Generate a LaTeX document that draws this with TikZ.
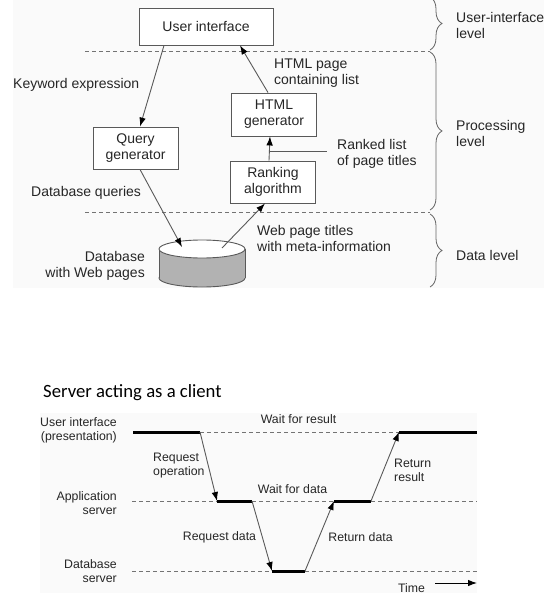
\documentclass[tikz,border=0pt]{standalone}
\usepackage{fontspec}
\setmainfont{Liberation Sans}
\newfontfamily\titlefont{Carlito}
\usetikzlibrary{arrows.meta,decorations.pathreplacing,calc}
\begin{document}
\begin{tikzpicture}[x=1pt,y=-1pt,
  txt/.style={text=black!85,font=\fontsize{14}{16}\selectfont,inner sep=0pt},
  box/.style={draw=black!65,line width=0.9pt,fill=white,align=center,text=black!85,font=\fontsize{14}{16}\selectfont,inner sep=0pt},
  arr/.style={draw=black!65,line width=0.9pt,-{Latex[length=9pt,width=6.5pt,color=black]}},
  dashline/.style={draw=black!55,line width=0.8pt,dash pattern=on 4pt off 3pt},
  thickline/.style={draw=black,line width=3pt},
  lvbrace/.style={draw=black!60,line width=0.8pt,decorate,decoration={brace,amplitude=12pt}},
  small/.style={text=black!85,font=\fontsize{12.3}{14}\selectfont,inner sep=0pt}]
\useasboundingbox (0,0) rectangle (556,609);
\fill[white] (0,0) rectangle (556,609);
% ---------- top figure ----------
\begin{scope}
\clip (13,0) rectangle (544,288);
\fill[black!2] (13,0) rectangle (544,288);
\draw[dashline] (85,51) -- (430,51);
\draw[dashline] (85,212) -- (430,212);
\node[box,minimum width=134pt,minimum height=37pt] (ui) at (206,26.5) {User interface};
\node[box,minimum width=85pt,minimum height=42pt] (qg) at (135.5,148) {Query\\generator};
\node[box,minimum width=85pt,minimum height=43pt] (html) at (274,114.5) {HTML\\generator};
\node[box,minimum width=85pt,minimum height=42pt] (rank) at (273,182) {Ranking\\algorithm};
% database cylinder
\filldraw[draw=black!65,line width=0.9pt,fill=black!30] (202,278) ellipse [x radius=43,y radius=9];
\fill[black!30] (159,249) rectangle (245,278);
\draw[black!65,line width=0.9pt] (159,249) -- (159,278) (245,249) -- (245,278);
\filldraw[draw=black!65,line width=0.9pt,fill=white] (202,249) ellipse [x radius=43,y radius=9];
\coordinate (db) at (202,249);
% arrows
\draw[arr] ([xshift=-42pt]ui.south) -- ([xshift=4.5pt]qg.north);
\draw[arr] ([xshift=-6pt]html.north) -- ([xshift=34pt]ui.south);
\draw[arr] ([xshift=-4pt]rank.north) -- ([xshift=-4pt]html.south);
\draw[arr] ([xshift=4.5pt]qg.south) -- ([xshift=-20pt,yshift=2pt]db);
\draw[arr] ([xshift=20pt,yshift=1pt]db) -- ([xshift=-8pt]rank.south);
% labels
\node[txt,anchor=west] (kw) at (13,85) {Keyword expression};
\node[txt,anchor=west] (dbq) at (31,193) {Database queries};
\node[txt,anchor=west,align=left] (hp) at (274,73) {HTML page\\containing list};
\node[txt,anchor=west,align=left] (rl) at (337,153.5) {Ranked list\\of page titles};
\coordinate (rlc) at ($([xshift=-4pt]rank.north)!0.36!([xshift=-4pt]html.south)$);
\draw[draw=black!65,line width=0.8pt] (rlc) -- ([xshift=-10pt]rlc -| rl.west);
\node[txt,anchor=west,align=left] (wt) at (257,238.5) {Web page titles\\with meta-information};
\node[txt,anchor=east,align=right] (dbn) at (145,265.5) {Database\\with Web pages};
% braces and levels
\draw[lvbrace] (430,-3) -- (430,50);
\draw[lvbrace] (430,52) -- (430,210);
\draw[lvbrace] (430,214) -- (430,287);
\node[txt,anchor=west,align=left] (l1) at (456,25.5) {User-interface\\level};
\node[txt,anchor=west,align=left] (l2) at (456,133.5) {Processing\\level};
\node[txt,anchor=west] (l3) at (456,255) {Data level};
\end{scope}
% ---------- bottom figure ----------
\node[anchor=west,inner sep=0pt,font=\titlefont\fontsize{18.7}{20}\selectfont] (title) at (43,393) {Server acting as a client};
\fill[black!2] (40,413) rectangle (477,593);
\coordinate (u0) at (133,432); \coordinate (u1) at (200,432);
\coordinate (u2) at (399,432); \coordinate (u3) at (477,432);
\coordinate (a0) at (132,501); \coordinate (a1) at (217,501);
\coordinate (a2) at (252,501); \coordinate (a3) at (334,501);
\coordinate (a4) at (371,501); \coordinate (a5) at (477,501);
\coordinate (d0) at (132,571); \coordinate (d1) at (272,571);
\coordinate (d2) at (305,571); \coordinate (d3) at (477,571);
\draw[dashline] (u1) -- (u2);
\draw[dashline] (a0) -- (a1) (a2) -- (a3) (a4) -- (a5);
\draw[dashline] (d0) -- (d1) (d2) -- (d3);
\draw[thickline] (u0) -- (u1) (u2) -- (u3);
\draw[thickline] (a1) -- (a2) (a3) -- (a4);
\draw[thickline] (d1) -- (d2);
\draw[arr] (u1) -- (a1);
\draw[arr] (a2) -- (d1);
\draw[arr] (d2) -- (a3);
\draw[arr] (a4) -- (u2);
\node[small,anchor=east,align=right] (lui) at (117,430.5) {User interface\\(presentation)};
\node[small,anchor=east,align=right] (lapp) at (117,503.5) {Application\\server};
\node[small,anchor=east,align=right] (ldb) at (117,571) {Database\\server};
\node[small] (wr) at (298.5,419) {Wait for result};
\node[small] (wd) at (292.5,489) {Wait for data};
\node[small,anchor=west,align=left] (ro) at (153,466) {Request\\operation};
\node[small,anchor=west,align=left] (rr) at (394,470) {Return\\result};
\node[small] (rd) at (219.5,537) {Request data};
\node[small] (rtd) at (360.5,537) {Return data};
\node[small] (time) at (411.5,588) {Time};
\coordinate (ts) at (435,583); \coordinate (te) at (477,583);
\draw[draw=black,line width=0.9pt,-{Latex[length=9pt,width=6.5pt]}] (ts) -- (te);
\end{tikzpicture}
\end{document}
